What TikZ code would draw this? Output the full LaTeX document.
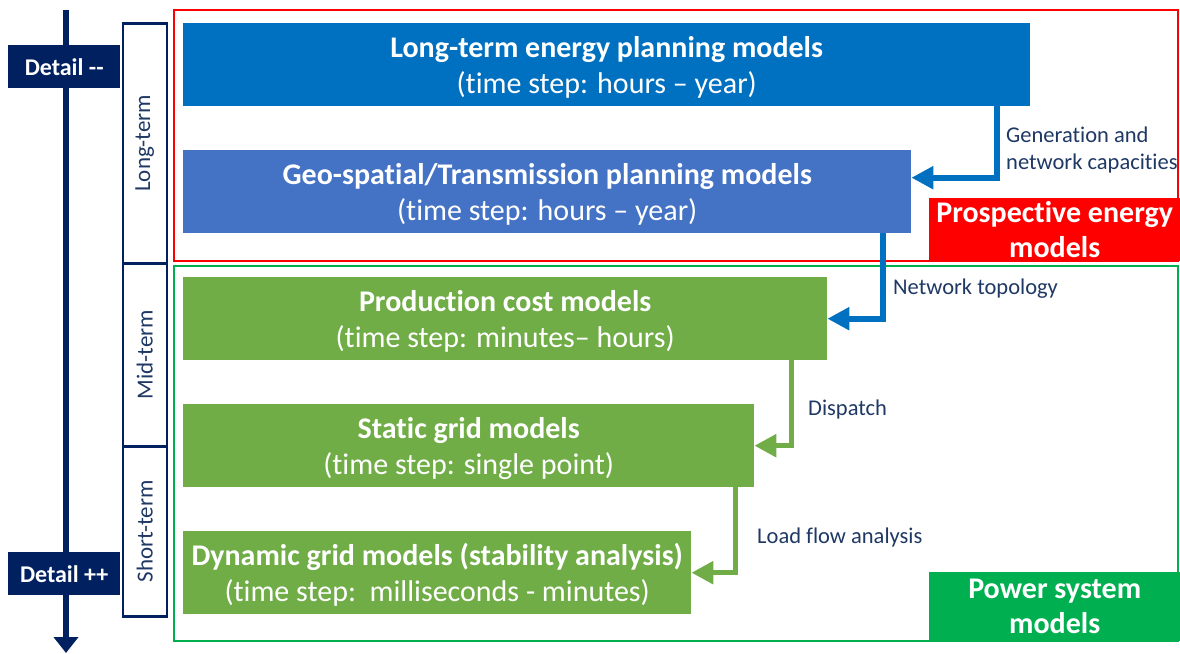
\documentclass[tikz,border=0pt]{standalone}
\usepackage{fontspec}
\setmainfont{Carlito}[Ligatures=NoCommon]
\usetikzlibrary{arrows.meta}
\definecolor{navy}{RGB}{0,32,96}
\definecolor{labnavy}{RGB}{31,56,100}
\definecolor{ltblue}{RGB}{0,112,192}
\definecolor{midblue}{RGB}{68,114,196}
\definecolor{modgreen}{RGB}{112,173,71}
\definecolor{tagred}{RGB}{255,0,0}
\definecolor{taggreen}{RGB}{0,176,80}
\tikzset{
  model/.style={anchor=north west, inner sep=0pt, text=white, align=center,
    font=\fontsize{30}{36}\selectfont, text depth=0pt},
  tag/.style={anchor=north west, inner sep=0pt, text=white, align=center,
    font=\bfseries\fontsize{30}{35}\selectfont},
  detail/.style={anchor=north west, fill=navy, text=white, inner sep=0pt,
    minimum width=112pt, minimum height=43pt, font=\bfseries\fontsize{24}{26}\selectfont},
  horizon/.style={anchor=north west, draw=navy, line width=2.5pt, inner sep=0pt,
    minimum width=44pt, fill=white},
  horizontext/.style={rotate=90, text=labnavy, font=\fontsize{23}{26}\selectfont},
  flowlabel/.style={anchor=west, text=labnavy, align=left, inner sep=0pt,
    font=\fontsize{22.5}{27}\selectfont},
  bluearrow/.style={draw=ltblue, line width=6pt,
    -{Triangle[width=22pt,length=22pt]}},
  greenarrow/.style={draw=modgreen, line width=5.5pt,
    -{Triangle[width=22pt,length=22pt]}}
}
\begin{document}
\begin{tikzpicture}[x=1pt,y=-1pt]
\useasboundingbox (0,0) rectangle (1180,653);
% group frames
\draw[tagred, line width=2.2pt] (174,10) rectangle (1178,261);
\draw[taggreen, line width=2.2pt] (174,266) rectangle (1178,641);
% detail axis
\coordinate (top) at (66,10);
\coordinate (bottom) at (66,653);
\draw[navy, line width=6.5pt, -{Triangle[width=24pt,length=16pt]}] (top) -- (bottom);
\node[detail] (less) at (8,45) {Detail -{}-};
\node[detail] (more) at (8,552) {Detail ++};
% time horizons
\node[horizon, minimum height=240pt] (long) at (121.5,22) {};
\node[horizon, minimum height=183pt] (mid) at (121.5,262) {};
\node[horizon, minimum height=170pt] (short) at (121.5,445) {};
\node[horizontext] at (long) {Long-term};
\node[horizontext] at (mid) {Mid-term};
\node[horizontext] at (short) {Short-term};
% models
\node[model, fill=ltblue, minimum width=847pt, minimum height=83pt] (ltep) at (183,23)
  {\textbf{Long-term energy planning models}\\(time step: hours – year)};
\node[model, fill=midblue, minimum width=728pt, minimum height=83pt] (geo) at (183,150)
  {\textbf{Geo-spatial/Transmission planning models}\\(time step: hours – year)};
\node[model, fill=modgreen, minimum width=644pt, minimum height=83pt] (pcm) at (183,277)
  {\textbf{Production cost models}\\(time step: minutes– hours)};
\node[model, fill=modgreen, minimum width=571pt, minimum height=83pt] (static) at (183,404)
  {\textbf{Static grid models}\\(time step: single point)};
\node[model, fill=modgreen, minimum width=508pt, minimum height=83pt] (dyn) at (183,531)
  {\textbf{Dynamic grid models (stability analysis)}\\(time step:\ \ milliseconds - minutes)};
% group tags
\node[tag, fill=tagred, minimum width=251pt, minimum height=63pt] (prosp) at (929,198)
  {Prospective energy\\models};
\node[tag, fill=taggreen, minimum width=251pt, minimum height=69pt, text depth=0pt] (psm) at (929,572)
  {Power system\\models};
% flows
\draw[bluearrow] ([xshift=-33pt]ltep.south east) |- ([yshift=14pt]geo.east);
\draw[bluearrow] ([xshift=-28pt]geo.south east) |- (pcm.east);
\draw[greenarrow] ([xshift=-36pt]pcm.south east) |- (static.east);
\draw[greenarrow] ([xshift=-19pt]static.south east) |- (dyn.east);
\node[flowlabel] (gen) at (1006,150) {Generation and\\network capacities};
\node[flowlabel] (topo) at (893,289) {Network topology};
\node[flowlabel] (disp) at (808,409) {Dispatch};
\node[flowlabel] (load) at (757,537) {Load flow analysis};
\end{tikzpicture}
\end{document}
